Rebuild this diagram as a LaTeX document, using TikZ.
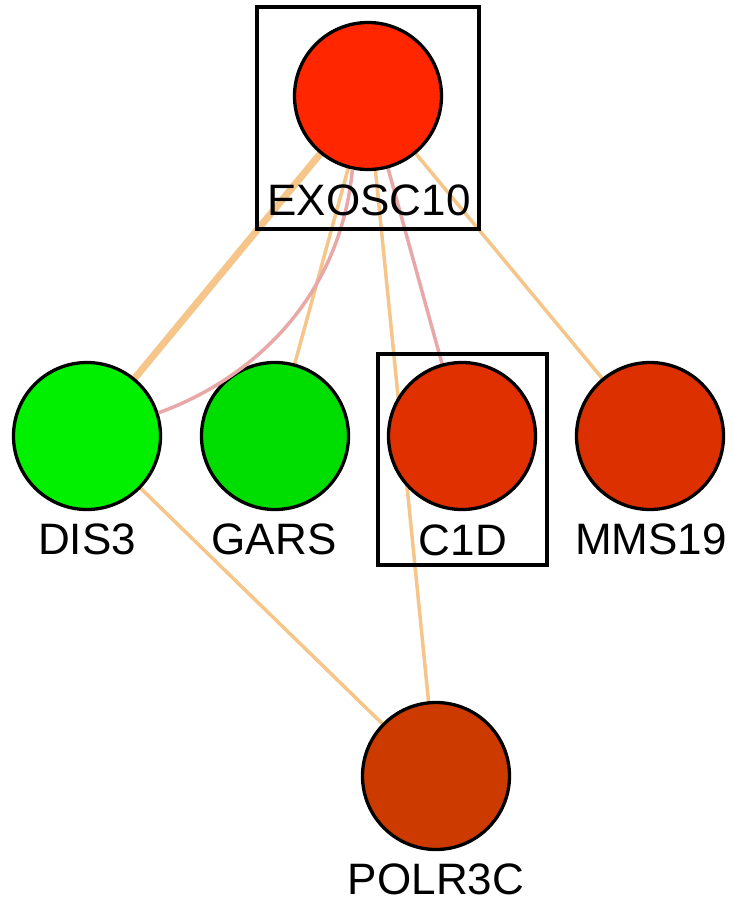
\documentclass[tikz,border=0pt]{standalone}
\usepackage{fontspec}
\setmainfont{Liberation Sans}
\definecolor{edgeorange}{HTML}{F5C58A}
\definecolor{edgepink}{HTML}{E8A8A8}
\definecolor{upA}{HTML}{FF2600}
\definecolor{upB}{HTML}{E03000}
\definecolor{upC}{HTML}{DD3000}
\definecolor{upD}{HTML}{CC3A00}
\definecolor{downA}{HTML}{00F000}
\definecolor{downB}{HTML}{00DD00}
\tikzset{
  gene/.style={circle, draw=black, line width=3.3pt, minimum size=147pt, inner sep=0pt},
  genelabel/.style={anchor=base, font=\fontsize{44pt}{44pt}\selectfont, inner sep=0pt},
  hilite/.style={draw=black, line width=4.5pt},
  coexp/.style={draw=edgeorange, line width=3.5pt},
  coexpthick/.style={draw=edgeorange, line width=7pt},
  physical/.style={draw=edgepink, line width=3.5pt}
}
\begin{document}
\begin{tikzpicture}[x=1pt,y=-1pt]
\useasboundingbox (0,0) rectangle (732,902);
% node positions
\coordinate (pEx) at (368,96);
\coordinate (pDis) at (87,436);
\coordinate (pGars) at (275,436);
\coordinate (pC1d) at (462,436);
\coordinate (pMms) at (650,436);
\coordinate (pPol) at (436,776);
% edges (behind the circles)
\draw[coexpthick] (pEx) -- (pDis);
\draw[coexp] (pEx) -- (pGars);
\draw[coexp] (pEx) -- (pPol);
\draw[coexp] (pEx) -- (pMms);
\draw[coexp] (pDis) -- (pPol);
\draw[physical] (pEx) -- (pC1d);
% circles
\node[gene, fill=upA] (ex) at (pEx) {};
\node[gene, fill=downA] (dis) at (pDis) {};
\node[gene, fill=downB] (gars) at (pGars) {};
\node[gene, fill=upB] (c1d) at (pC1d) {};
\node[gene, fill=upC] (mms) at (pMms) {};
\node[gene, fill=upD] (pol) at (pPol) {};
% curved physical interaction EXOSC10 - DIS3
\draw[physical] (ex.258) .. controls (340,300) and (250,380) .. (dis.18);
% labels
\node[genelabel] (lex) at (369,215) {EXOSC10};
\node[genelabel] (ldis) at (87,554) {DIS3};
\node[genelabel] (lgars) at (274,554) {GARS};
\node[genelabel] (lc1d) at (463,555) {C1D};
\node[genelabel] (lmms) at (651,554) {MMS19};
\node[genelabel] (lpol) at (436,894) {POLR3C};
% highlight boxes
\draw[hilite] (257,7) rectangle (479,229);
\draw[hilite] (378,354) rectangle (547,565);
\end{tikzpicture}
\end{document}
